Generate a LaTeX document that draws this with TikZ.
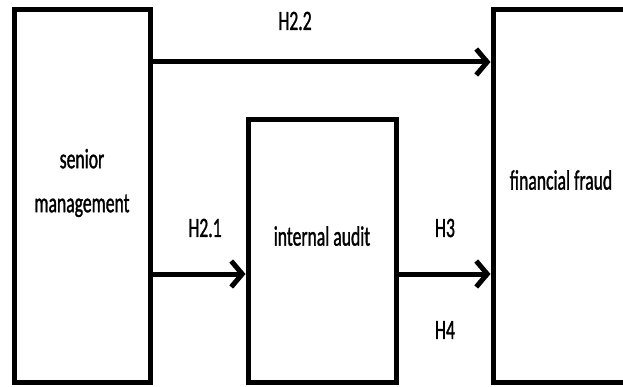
\documentclass[tikz,border=0pt]{standalone}
\usepackage{fontspec}
\setmainfont{Carlito}[FakeStretch=0.63, FakeBold=1.2]
\usetikzlibrary{arrows.meta}

\begin{document}
\begin{tikzpicture}[x=1pt, y=-1pt,
  box/.style={draw, line width=5pt, inner sep=0, minimum width=#1},
  lbl/.style={inner sep=0, font=\fontsize{28}{44}\selectfont},
  link/.style={line width=5pt, -{Straight Barb[length=11pt, width=26pt]}}]
 \useasboundingbox (0,0) rectangle (623,387);
 \clip (0,0) rectangle (623,387);

  \node [box=136, minimum height=372] (mgmt) at (82,196) {};
  \node [box=148, minimum height=262] (audit) at (322,251) {};
  \node [box=160, minimum height=372] (fraud) at (573,196) {};

  \node [lbl, align=center] (mgmttext) at (82,183) {senior\\management};
  \node [lbl] (audittext) at (322,236) {internal audit};
  \node [lbl] (fraudtext) at (561,180) {financial fraud};

  \coordinate (toprow) at (0,62);
  \coordinate (lowrow) at (0,274);

  \draw [link] (mgmt.east |- toprow) -- (fraud.west |- toprow);
  \draw [link] (mgmt.east |- lowrow) -- (audit.west |- lowrow);
  \draw [link] (audit.east |- lowrow) -- (fraud.west |- lowrow);

  \node [lbl] (h22) at (295,21) {H2.2};
  \node [lbl] (h21) at (205,228) {H2.1};
  \node [lbl] (h3) at (445,228) {H3};
  \node [lbl] (h4) at (445,330) {H4};
\end{tikzpicture}
\end{document}
